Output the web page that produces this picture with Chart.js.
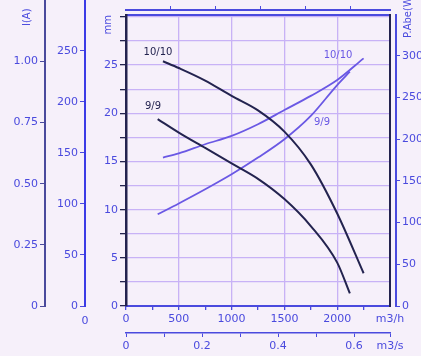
<!DOCTYPE html>
<html>
<head>
<meta charset="utf-8">
<script src="https://cdn.jsdelivr.net/npm/chart.js@4.4.0/dist/chart.umd.min.js"></script>
<style>
  html, body { margin: 0; padding: 0; background: #f6f0fa; }
  canvas { display: block; }
</style>
</head>
<body>
<canvas id="fanChart" width="421" height="356"></canvas>
<script>
// curvas do ventilador (vazão em m3/h)
const flow1010 = [350, 500, 750, 1000, 1250, 1500, 1750, 2000, 2250];
const press1010 = [25.4, 24.7, 23.4, 21.8, 20.3, 18.1, 14.7, 9.6, 3.4]; // mm
const power1010 = [178, 183, 194, 204, 218, 235, 252, 271, 297]; // W

const flow99 = [300, 500, 750, 1000, 1250, 1500, 1750, 2000, 2120];
const press99 = [19.4, 18.0, 16.4, 14.8, 13.2, 11.1, 8.3, 4.5, 1.3]; // mm
const power99 = [110, 123, 140, 158, 178, 200, 228, 265, 281]; // W

// rótulos das curvas: [vazão, valor]
const tagPress1010 = [303, 26.3];
const tagPress99 = [256, 20.7];
const tagPower1010 = [2008, 301];
const tagPower99 = [1856, 220];

// eixos
const flowTicks = [0, 250, 500, 750, 1000, 1250, 1500, 1750, 2000, 2250, 2500];
const flowLabels = ["0", "", "500", "", "1000", "", "1500", "", "2000", "", "m3/h"];
const flowSecTicks = [0, 0.1, 0.2, 0.3, 0.4, 0.5, 0.6, 2500 / 3600];
const flowSecLabels = ["0", "", "0.2", "", "0.4", "", "0.6", "m3/s"];
const cfmTicks = [250, 500, 750, 1000, 1250];
const mmTicks = [0, 2.5, 5, 7.5, 10, 12.5, 15, 17.5, 20, 22.5, 25, 27.5, 30];
const mmLabels = ["0", "", "5", "", "10", "", "15", "", "20", "", "25", "", ""];
const paTicks = [0, 50, 100, 150, 200, 250];
const iTicks = [0, 0.25, 0.5, 0.75, 1];
const iLabels = ["0", "0.25", "0.50", "0.75", "1.00"];
const wTicks = [0, 50, 100, 150, 200, 250, 300];

const blue = "#4a4ade";
const navy = "#23234f";
const violet = "#6a58e4";
const gridCol = "#c8b2f6";
const fontFam = "'DejaVu Sans', Verdana, sans-serif";
const font11 = { family: fontFam, size: 11 };

function fixTicks(values) {
  return (scale) => { scale.ticks = values.map((v) => ({ value: v })); };
}
function fixWidth(w) { return (scale) => { scale.width = w; }; }
function fixHeight(h) { return (scale) => { scale.height = h; }; }
function pts(xs, ys) { return xs.map((x, i) => ({ x: x, y: ys[i] })); }

const curveText = {
  id: "curveText",
  afterDraw(chart) {
    const ctx = chart.ctx;
    const sx = chart.scales.x, sm = chart.scales.yMM, sw = chart.scales.yW;
    const area = chart.chartArea;
    ctx.save();

    // os eixos da esquerda sobem até a borda
    ctx.lineWidth = 2;
    ctx.strokeStyle = "#4a4a9c";
    ctx.beginPath();
    ctx.moveTo(chart.scales.yI.right, area.top);
    ctx.lineTo(chart.scales.yI.right, 0);
    ctx.stroke();
    ctx.strokeStyle = "#3b3be6";
    ctx.beginPath();
    ctx.moveTo(chart.scales.yPa.right, area.top);
    ctx.lineTo(chart.scales.yPa.right, 0);
    ctx.stroke();

    ctx.font = "10px " + fontFam;
    ctx.textAlign = "center";
    ctx.textBaseline = "middle";
    ctx.fillStyle = navy;
    ctx.fillText("10/10", sx.getPixelForValue(tagPress1010[0]), sm.getPixelForValue(tagPress1010[1]));
    ctx.fillText("9/9", sx.getPixelForValue(tagPress99[0]), sm.getPixelForValue(tagPress99[1]));
    ctx.fillStyle = violet;
    ctx.fillText("10/10", sx.getPixelForValue(tagPower1010[0]), sw.getPixelForValue(tagPower1010[1]));
    ctx.fillText("9/9", sx.getPixelForValue(tagPower99[0]), sw.getPixelForValue(tagPower99[1]));

    // "0" sob o eixo Pa
    ctx.fillStyle = blue;
    ctx.font = "11px " + fontFam;
    ctx.fillText("0", chart.scales.yPa.right, area.bottom + 15);

    // títulos girados
    ctx.font = "10px " + fontFam;
    ctx.textAlign = "left";
    ctx.translate(chart.scales.yI.left + 22, area.top + 11);
    ctx.rotate(-Math.PI / 2);
    ctx.fillText("I(A)", 0, 0);
    ctx.setTransform(1, 0, 0, 1, 0, 0);
    ctx.translate(sw.left + 12, area.top + 23);
    ctx.rotate(-Math.PI / 2);
    ctx.fillText("P.Abe(W)", 0, 0);
    ctx.restore();
  },
};

new Chart(document.getElementById("fanChart"), {
  type: "line",
  data: {
    datasets: [
      { data: pts(flow1010, press1010), yAxisID: "yMM", borderColor: navy, borderWidth: 2 },
      { data: pts(flow99, press99), yAxisID: "yMM", borderColor: navy, borderWidth: 2 },
      { data: pts(flow1010, power1010), yAxisID: "yW", borderColor: violet, borderWidth: 1.8 },
      { data: pts(flow99, power99), yAxisID: "yW", borderColor: violet, borderWidth: 1.8 },
    ],
  },
  options: {
    responsive: false,
    animation: false,
    layout: { padding: { left: 5, right: 0, top: 0, bottom: 0 } },
    elements: {
      point: { radius: 0 },
      line: { cubicInterpolationMode: "monotone", fill: false },
    },
    plugins: { legend: { display: false }, tooltip: { enabled: false } },
    scales: {
      x: {
        type: "linear", position: "bottom", weight: 0, min: 0, max: 2500,
        afterBuildTicks: fixTicks(flowTicks), afterFit: fixHeight(27),
        border: { color: blue, width: 2 },
        grid: {
          color: (c) => (c.tick && c.tick.value % 500 === 0 && c.tick.value > 0 && c.tick.value < 2500) ? gridCol : "transparent",
          tickColor: (c) => (c.tick && c.tick.value === 2500) ? "transparent" : blue,
          tickLength: 4, lineWidth: 1.3,
        },
        ticks: { color: blue, font: font11, padding: 3, maxRotation: 0, minRotation: 0, autoSkip: false,
          callback: (v, i) => flowLabels[i] },
      },
      x2: {
        type: "linear", position: "bottom", weight: 1, min: 0, max: 2500 / 3600,
        afterBuildTicks: fixTicks(flowSecTicks), afterFit: fixHeight(23),
        border: { color: blue, width: 1.5 },
        grid: { drawOnChartArea: false, color: blue, tickLength: 4 },
        ticks: { color: blue, font: font11, padding: 3, maxRotation: 0, minRotation: 0, autoSkip: false,
          callback: (v, i) => flowSecLabels[i] },
      },
      frameTop: {
        type: "linear", position: "top", weight: 0, afterFit: fixHeight(5),
        border: { color: blue, width: 2 },
        grid: { drawOnChartArea: false, drawTicks: false },
        ticks: { display: false },
      },
      xTop: {
        type: "linear", position: "top", weight: 1, min: 0, max: 2500 / 1.699,
        afterBuildTicks: fixTicks(cfmTicks), afterFit: fixHeight(10),
        border: { color: blue, width: 2 },
        grid: { drawOnChartArea: false, color: blue, tickLength: 4 },
        ticks: { display: false },
      },
      yMM: {
        type: "linear", position: "left", weight: 0, min: 0, max: 30.2,
        afterBuildTicks: fixTicks(mmTicks), afterFit: fixWidth(41),
        border: { color: navy, width: 2.5 },
        grid: {
          color: (c) => (c.tick && c.tick.value > 0) ? gridCol : "transparent",
          tickColor: navy, tickLength: 6, lineWidth: 1.3,
        },
        ticks: { color: blue, font: font11, padding: 2, autoSkip: false, callback: (v, i) => mmLabels[i] },
        title: { display: true, text: "mm", align: "end", color: blue,
          font: { family: fontFam, size: 10 }, padding: { top: 17, bottom: 0 } },
      },
      yPa: {
        type: "linear", position: "left", weight: 1, min: 0, max: 285,
        afterBuildTicks: fixTicks(paTicks), afterFit: fixWidth(40),
        border: { color: "#3b3be6", width: 2 },
        grid: { drawOnChartArea: false, color: blue, tickLength: 5 },
        ticks: { color: blue, font: font11, padding: 2, autoSkip: false },
      },
      yI: {
        type: "linear", position: "left", weight: 2, min: 0, max: 1.19,
        afterBuildTicks: fixTicks(iTicks), afterFit: fixWidth(40),
        border: { color: "#4a4a9c", width: 2 },
        grid: { drawOnChartArea: false, color: "#4a4a9c", tickLength: 5 },
        ticks: { color: blue, font: font11, padding: 2, autoSkip: false, callback: (v, i) => iLabels[i] },
      },
      frameRight: {
        type: "linear", position: "right", weight: 0, afterFit: fixWidth(6),
        border: { color: navy, width: 2 },
        grid: { drawOnChartArea: false, drawTicks: false },
        ticks: { display: false },
      },
      yW: {
        type: "linear", position: "right", weight: 1, min: 0, max: 349,
        afterBuildTicks: fixTicks(wTicks), afterFit: fixWidth(25),
        border: { color: blue, width: 2 },
        grid: { drawOnChartArea: false, color: blue, tickLength: 4 },
        ticks: { color: blue, font: font11, padding: 2, autoSkip: false },
      },
    },
  },
  plugins: [curveText],
});
</script>
</body>
</html>
